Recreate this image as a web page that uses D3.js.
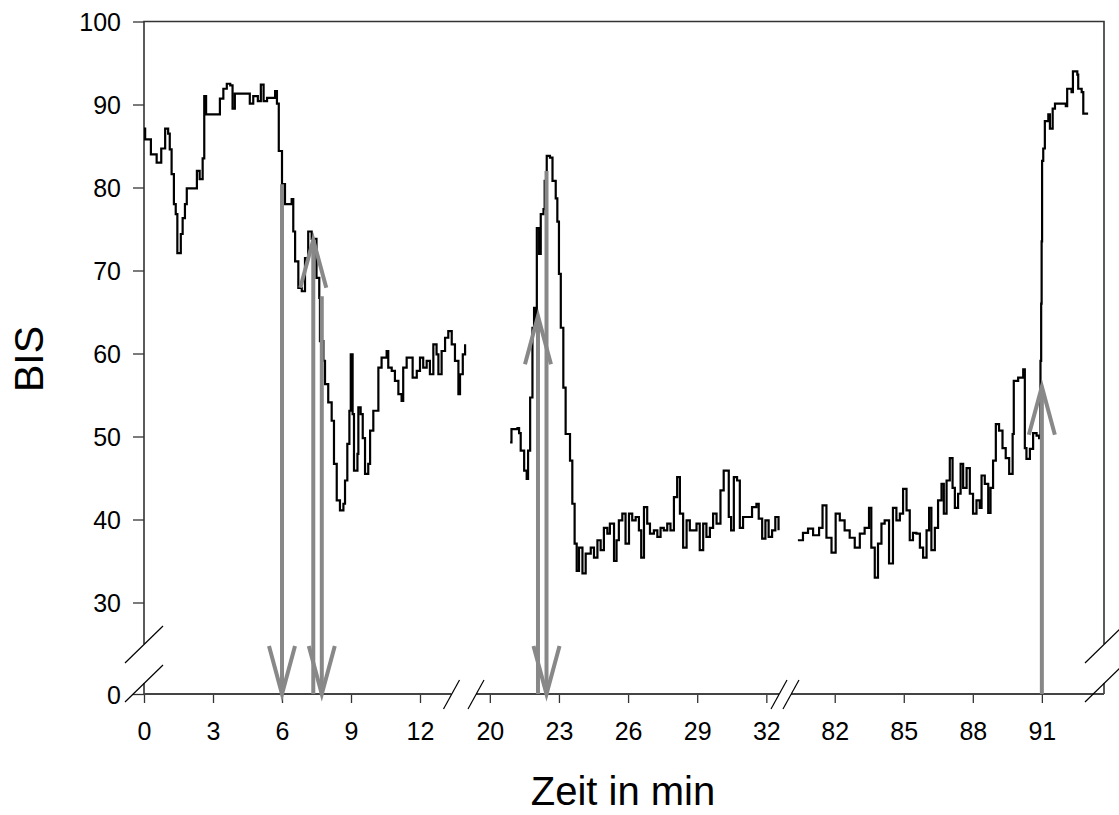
<!DOCTYPE html>
<html>
<head>
<meta charset="utf-8">
<script src="https://cdn.jsdelivr.net/npm/d3@7"></script>
<style>
  body { margin: 0; background: #fff; }
  svg { display: block; font-family: "Liberation Sans", Arial, sans-serif; }
</style>
</head>
<body>
<svg id="chart" width="1119" height="815"></svg>
<script>
// BIS readings, three recording windows (time in min)
const seg1Time = [0, 0.05, 0.3, 0.55, 0.75, 0.92, 1.05, 1.12, 1.2, 1.3, 1.38, 1.45, 1.6, 1.68, 1.78, 1.86, 2.22, 2.3, 2.42, 2.55, 2.62, 2.7, 3.23, 3.3, 3.45, 3.6, 3.75, 3.85, 3.95, 4.46, 4.6, 4.75, 4.95, 5.08, 5.2, 5.35, 5.7, 5.78, 5.86, 6.0, 6.13, 6.42, 6.49, 6.57, 6.71, 6.86, 7.0, 7.14, 7.29, 7.5, 7.62, 7.65, 7.8, 7.87, 8.01, 8.16, 8.26, 8.38, 8.52, 8.67, 8.74, 8.84, 8.93, 8.99, 9.07, 9.13, 9.28, 9.32, 9.42, 9.51, 9.61, 9.75, 9.83, 9.97, 10.12, 10.19, 10.33, 10.55, 10.62, 10.77, 10.91, 11.06, 11.2, 11.27, 11.42, 11.57, 11.68, 11.86, 12.0, 12.14, 12.29, 12.43, 12.58, 12.72, 12.8, 12.94, 13.09, 13.23, 13.38, 13.52, 13.67, 13.74, 13.86, 13.96];
const seg1Bis = [87.1, 85.8, 84.0, 83.0, 84.7, 87.1, 86.5, 84.6, 81.6, 78.0, 76.8, 72.1, 74.4, 76.3, 78.0, 79.9, 79.9, 82.0, 81.0, 83.5, 91.0, 88.8, 88.8, 90.7, 91.9, 92.5, 92.3, 89.5, 91.3, 91.3, 90.1, 91.0, 90.4, 92.4, 90.4, 90.8, 91.6, 90.1, 84.4, 80.4, 78.0, 78.6, 74.7, 71.1, 67.9, 67.5, 71.5, 74.7, 73.8, 69.1, 66.7, 61.5, 59.1, 56.3, 54.1, 51.9, 46.7, 42.3, 41.1, 41.9, 44.7, 49.1, 53.1, 59.9, 52.7, 45.9, 47.9, 53.5, 52.7, 49.8, 45.5, 46.7, 50.7, 53.1, 53.1, 58.3, 59.5, 60.3, 58.3, 57.9, 56.7, 55.1, 54.3, 58.3, 59.5, 59.5, 57.1, 57.9, 59.5, 58.3, 59.1, 57.5, 61.1, 59.9, 57.5, 60.3, 61.9, 62.7, 61.1, 59.1, 55.1, 57.5, 59.9, 61.1];

const seg2Time = [20.88, 20.94, 21.2, 21.27, 21.34, 21.49, 21.6, 21.66, 21.75, 21.85, 21.92, 21.99, 22.04, 22.14, 22.21, 22.33, 22.38, 22.47, 22.61, 22.72, 22.86, 22.93, 23.0, 23.08, 23.19, 23.29, 23.48, 23.58, 23.68, 23.77, 23.87, 24.02, 24.16, 24.38, 24.52, 24.67, 24.81, 24.95, 25.1, 25.21, 25.39, 25.5, 25.6, 25.75, 25.89, 26.04, 26.18, 26.33, 26.47, 26.57, 26.69, 26.83, 26.95, 27.12, 27.27, 27.41, 27.55, 27.7, 27.84, 27.99, 28.13, 28.25, 28.39, 28.54, 28.68, 28.83, 28.97, 29.11, 29.26, 29.4, 29.55, 29.69, 29.84, 30.01, 30.15, 30.27, 30.37, 30.47, 30.59, 30.73, 30.85, 30.99, 31.17, 31.38, 31.57, 31.67, 31.82, 31.96, 32.1, 32.25, 32.39, 32.53];
const seg2Bis = [49.3, 50.9, 51.0, 50.4, 48.3, 45.9, 44.9, 48.3, 54.7, 63.1, 65.5, 64.3, 75.1, 72.0, 76.8, 77.4, 80.8, 83.8, 83.6, 80.8, 78.7, 75.9, 69.6, 63.1, 55.9, 50.3, 47.1, 41.9, 37.1, 33.8, 36.6, 33.5, 35.9, 36.6, 35.4, 37.5, 36.3, 39.0, 38.3, 39.5, 35.0, 37.5, 39.9, 40.7, 37.1, 40.7, 39.9, 40.3, 38.7, 35.4, 41.5, 39.5, 38.3, 38.7, 37.9, 39.0, 38.7, 39.5, 38.7, 42.7, 45.1, 40.7, 36.6, 39.9, 38.7, 38.7, 39.5, 36.3, 39.5, 37.9, 39.0, 40.7, 39.5, 43.5, 45.9, 45.9, 40.3, 38.7, 45.1, 44.7, 39.0, 40.3, 40.3, 41.5, 41.9, 40.1, 37.7, 39.9, 37.9, 38.7, 40.3, 38.7];

const seg3Time = [80.4, 80.62, 80.84, 81.06, 81.32, 81.47, 81.64, 81.86, 82.04, 82.22, 82.43, 82.65, 82.87, 83.09, 83.3, 83.49, 83.59, 83.74, 83.88, 84.03, 84.17, 84.36, 84.53, 84.68, 84.83, 84.97, 85.12, 85.26, 85.4, 85.55, 85.7, 85.84, 85.99, 86.1, 86.2, 86.35, 86.49, 86.64, 86.74, 86.86, 87.0, 87.12, 87.22, 87.36, 87.47, 87.58, 87.73, 87.87, 88.01, 88.16, 88.3, 88.38, 88.52, 88.67, 88.77, 88.88, 89.0, 89.14, 89.29, 89.43, 89.58, 89.73, 89.78, 89.97, 90.19, 90.26, 90.33, 90.48, 90.62, 90.77, 90.88, 90.94, 90.97, 90.99, 91.01, 91.06, 91.13, 91.28, 91.35, 91.47, 91.57, 92.04, 92.1, 92.29, 92.35, 92.54, 92.58, 92.73, 92.8, 93.01];
const seg3Bis = [37.5, 38.4, 38.9, 38.1, 39.0, 41.7, 37.8, 36.0, 40.7, 39.9, 38.7, 37.8, 36.6, 38.3, 39.0, 41.4, 36.6, 33.0, 37.1, 39.5, 39.9, 34.7, 41.4, 39.9, 40.7, 43.7, 41.1, 37.5, 38.4, 38.3, 36.6, 35.4, 38.7, 41.4, 36.3, 39.0, 42.3, 44.3, 40.7, 44.7, 47.4, 43.8, 41.4, 43.1, 46.7, 43.8, 46.2, 43.1, 40.7, 42.3, 41.4, 45.3, 44.3, 40.8, 43.8, 47.1, 51.5, 50.7, 48.6, 47.4, 45.5, 50.3, 56.7, 57.1, 58.1, 48.6, 47.3, 48.5, 50.4, 50.1, 49.8, 59.1, 66.0, 73.5, 83.2, 84.7, 88.0, 88.8, 87.1, 89.5, 90.1, 89.8, 91.9, 91.5, 94.0, 93.6, 91.9, 91.5, 88.9, 88.9];

// stimulation arrows: time, start value, end value (head at end)
const arrowTime = [6.0, 7.36, 7.73, 22.09, 22.46, 91.0];
const arrowFrom = [80.4, 0, 66.9, 0, 82.0, 0];
const arrowTo = [0, 73.7, 0, 64.5, 0, 56.0];

const bisTicks = [0, 30, 40, 50, 60, 70, 80, 90, 100];
const timeTicks = [0, 3, 6, 9, 12, 20, 23, 26, 29, 32, 82, 85, 88, 91];

const fontFamily = '"Liberation Sans", Arial, sans-serif';
const tickFont = 25;
const width = 1119, height = 815;
const margin = { top: 21.5, right: 15, bottom: 121, left: 144 };
const innerWidth = width - margin.left - margin.right;
const innerHeight = height - margin.top - margin.bottom;

const svg = d3.select('#chart');
const g = svg.append('g').attr('transform', `translate(${margin.left},${margin.top})`);

// broken axes -> polylinear scales
const xScale = d3.scaleLinear()
  .domain([0, 14, 19.4, 32.55, 80.1, 93.7])
  .range([0, 322, 332, 635, 647, innerWidth]);
const yScale = d3.scaleLinear()
  .domain([0, 30, 100])
  .range([innerHeight, 581, 0]);

const yAxis = d3.axisLeft(yScale).tickValues(bisTicks).tickSize(11).tickPadding(12);
const xAxis = d3.axisBottom(xScale).tickValues(timeTicks).tickSize(9).tickPadding(19);

const yAxisG = g.append('g').attr('class', 'yAxis').call(yAxis)
  .attr('font-family', fontFamily).attr('font-size', tickFont);
yAxisG.select('.domain').remove();
yAxisG.selectAll('line').attr('stroke', '#333').attr('stroke-width', 1.3);
yAxisG.selectAll('text').attr('fill', '#000').attr('dy', null).attr('y', tickFont * 0.36);

const xAxisG = g.append('g').attr('class', 'xAxis')
  .attr('transform', `translate(0,${innerHeight})`).call(xAxis)
  .attr('font-family', fontFamily).attr('font-size', tickFont);
xAxisG.select('.domain').remove();
xAxisG.selectAll('line').attr('stroke', '#333').attr('stroke-width', 1.3);
xAxisG.selectAll('text').attr('fill', '#000').attr('dy', null).attr('y', 46);

// axis lines and frame with gaps at the breaks
const yBreakHi = yScale(16.4), yBreakLo = yScale(3.6);
const xBreaks = [xScale(13.37), xScale(19.4), xScale(32.55), xScale(80.05)];
const frame = g.append('g').attr('class', 'frame').attr('fill', 'none');

frame.append('path')
  .attr('d', `M0,${yBreakHi}V0H${innerWidth}V${yBreakHi}M0,${yBreakLo}V${innerHeight}M${innerWidth},${yBreakLo}V${innerHeight}`)
  .attr('stroke', '#333').attr('stroke-width', 1.6);
frame.append('path')
  .attr('d', `M0,${innerHeight}H${xBreaks[0]}M${xBreaks[1]},${innerHeight}H${xBreaks[2]}M${xBreaks[3]},${innerHeight}H${innerWidth}`)
  .attr('stroke', '#444').attr('stroke-width', 2);

// break slashes
const ySlashes = [[0, yBreakHi], [0, yBreakLo], [innerWidth, yBreakHi], [innerWidth, yBreakLo]];
frame.selectAll('.yslash').data(ySlashes).enter().append('line')
  .attr('class', 'yslash')
  .attr('x1', d => d[0] - 19).attr('y1', d => d[1] + 19)
  .attr('x2', d => d[0] + 19).attr('y2', d => d[1] - 18)
  .attr('stroke', '#000').attr('stroke-width', 1.2);
frame.selectAll('.xslash').data(xBreaks).enter().append('line')
  .attr('class', 'xslash')
  .attr('x1', d => d - 8).attr('y1', innerHeight + 15)
  .attr('x2', d => d + 8).attr('y2', innerHeight - 14)
  .attr('stroke', '#000').attr('stroke-width', 1.2);

// BIS trace
const line = d3.line()
  .x(d => xScale(d[0]))
  .y(d => yScale(d[1]))
  .curve(d3.curveStepAfter);

const segments = [
  d3.zip(seg1Time, seg1Bis),
  d3.zip(seg2Time, seg2Bis),
  d3.zip(seg3Time, seg3Bis)
];

g.selectAll('.trace').data(segments).enter().append('path')
  .attr('class', 'trace')
  .attr('d', line)
  .attr('fill', 'none')
  .attr('stroke', '#000')
  .attr('stroke-width', 2.2)
  .attr('stroke-linejoin', 'miter');

// arrows
const arrows = arrowTime.map((t, i) => ({ t, from: arrowFrom[i], to: arrowTo[i] }));
const arrowG = g.selectAll('.arrow').data(arrows).enter().append('g')
  .attr('class', 'arrow')
  .attr('fill', 'none')
  .attr('stroke', '#888')
  .attr('stroke-width', 4);

arrowG.append('line')
  .attr('x1', d => xScale(d.t)).attr('y1', d => yScale(d.from))
  .attr('x2', d => xScale(d.t)).attr('y2', d => yScale(d.to));

arrowG.append('path')
  .attr('d', d => {
    const x = xScale(d.t), y = yScale(d.to);
    const dir = d.to > d.from ? 1 : -1;
    return `M${x - 13},${y + 48 * dir}L${x},${y}L${x + 13},${y + 48 * dir}`;
  });

// axis titles
svg.append('text')
  .attr('x', 623).attr('y', 805)
  .attr('text-anchor', 'middle')
  .attr('font-size', 40)
  .text('Zeit in min');

svg.append('text')
  .attr('transform', `translate(43,359) rotate(-90)`)
  .attr('text-anchor', 'middle')
  .attr('font-size', 41)
  .text('BIS');
</script>
</body>
</html>
